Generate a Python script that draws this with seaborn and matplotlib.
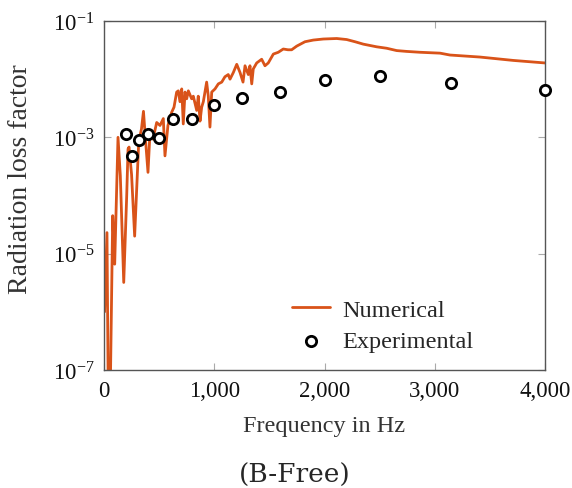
import numpy as np
import pandas as pd
import matplotlib
matplotlib.use("Agg")
import matplotlib.pyplot as plt
import matplotlib.ticker as ticker
import seaborn as sns

# Numerical radiation loss factor
num_freq = [5, 27, 45, 79, 97, 127, 148, 179, 206, 218, 227, 250, 278, 315, 340,
            358, 376, 399, 417, 444, 478, 508, 538, 553, 580, 614, 635, 659, 674,
            689, 705, 719, 735, 750, 765, 795, 810, 841, 855, 871, 886, 901, 931,
            946, 961, 977, 1007, 1037, 1068, 1097, 1127, 1143, 1173, 1204, 1234,
            1261, 1279, 1309, 1324, 1340, 1354, 1385, 1430, 1460, 1490, 1536,
            1581, 1626, 1669, 1702, 1748, 1823, 1898, 1989, 2111, 2201, 2277,
            2352, 2473, 2564, 2655, 2745, 2866, 3048, 3138, 3410, 3712, 4000]
num_val = [1.0e-6, 2.3e-5, 1e-9, 4.5e-5, 6.6e-6, 1.0e-3, 2.2e-4, 3.2e-6, 1.0e-4,
           6.3e-4, 6.8e-4, 2.3e-4, 2.0e-5, 8.3e-4, 1.4e-3, 2.8e-3, 9.3e-4, 2.5e-4,
           1.2e-3, 9.3e-4, 1.8e-3, 1.6e-3, 2.1e-3, 4.8e-4, 1.6e-3, 2.7e-3, 3.3e-3,
           6.0e-3, 6.3e-3, 4.1e-3, 6.8e-3, 1.7e-3, 6.0e-3, 4.6e-3, 6.3e-3, 4.6e-3,
           5.1e-3, 2.9e-3, 5.1e-3, 1.9e-3, 3.3e-3, 4.1e-3, 8.9e-3, 5.1e-3, 1.5e-3,
           6.0e-3, 6.8e-3, 8.3e-3, 8.9e-3, 1.1e-2, 1.2e-2, 1.0e-2, 1.3e-2, 1.8e-2,
           1.3e-2, 8.9e-3, 1.7e-2, 1.2e-2, 1.7e-2, 8.3e-3, 1.5e-2, 1.9e-2, 2.2e-2,
           1.7e-2, 1.9e-2, 2.7e-2, 2.9e-2, 3.3e-2, 3.2e-2, 3.2e-2, 3.7e-2, 4.4e-2,
           4.7e-2, 4.9e-2, 5.0e-2, 4.8e-2, 4.4e-2, 4.0e-2, 3.6e-2, 3.4e-2, 3.1e-2,
           3.0e-2, 2.9e-2, 2.8e-2, 2.6e-2, 2.4e-2, 2.1e-2, 1.9e-2]

# Experimental (third-octave bands)
exp_freq = [200, 250, 315, 400, 500, 630, 800, 1000, 1250, 1600, 2000, 2500, 3150, 4000]
exp_val = [1.15e-3, 4.8e-4, 8.9e-4, 1.15e-3, 9.8e-4, 2.1e-3, 2.1e-3, 3.6e-3,
           4.8e-3, 6.0e-3, 9.7e-3, 1.13e-2, 8.6e-3, 6.5e-3]

x_ticks = [0, 1000, 2000, 3000, 4000]
y_ticks = [1e-7, 1e-5, 1e-3, 1e-1]

num_df = pd.DataFrame({"freq": num_freq, "val": num_val})
exp_df = pd.DataFrame({"freq": exp_freq, "val": exp_val})

sns.set_theme(style="ticks")
plt.rcParams["font.family"] = ["Liberation Serif", "DejaVu Serif"]
plt.rcParams["mathtext.fontset"] = "stix"

fig = plt.figure(figsize=(5.72, 4.89), dpi=100)
ax = fig.add_axes([104 / 572, 1 - 371 / 489, 441 / 572, 349 / 489])

orange = "#D95319"
sns.lineplot(data=num_df, x="freq", y="val", ax=ax, color=orange, lw=2.0,
             label="Numerical", sort=False)
sns.scatterplot(data=exp_df, x="freq", y="val", ax=ax, marker="o",
                facecolor="white", edgecolor="black", linewidth=2.0, s=55,
                label="Experimental", zorder=5, clip_on=False)

ax.set_yscale("log")
ax.set_xlim(0, 4000)
ax.set_ylim(1e-7, 1e-1)
ax.set_xticks(x_ticks)
ax.set_yticks(y_ticks)
ax.yaxis.set_minor_locator(ticker.NullLocator())
ax.xaxis.set_major_formatter(ticker.FuncFormatter(lambda v, p: f"{int(v):,}"))
ax.yaxis.set_major_formatter(ticker.LogFormatterMathtext())

ax.tick_params(direction="in", length=5, width=0.8, color="#aaaaaa",
               top=True, right=True, labelsize=16.5, pad=7, labelcolor="#111111")
for s in ax.spines.values():
    s.set_color("#555555")
    s.set_linewidth(1.0)

ax.set_xlabel("Frequency in Hz", fontsize=17.5, color="#333333", labelpad=10)
ax.set_ylabel("Radiation loss factor", fontsize=20, color="#333333")
ax.yaxis.set_label_coords(-0.16, 0.549)

leg = ax.legend(loc="lower left", bbox_to_anchor=(0.41, 0.03), frameon=False,
                fontsize=17.5, handlelength=1.55, handletextpad=0.5,
                borderaxespad=0, borderpad=0.3, labelspacing=0.4)

fig.text(295 / 572, 1 - 475 / 489, "(B-Free)", ha="center", va="center",
         fontsize=19, family="DejaVu Serif")

fig.savefig("out.png", dpi=100)
